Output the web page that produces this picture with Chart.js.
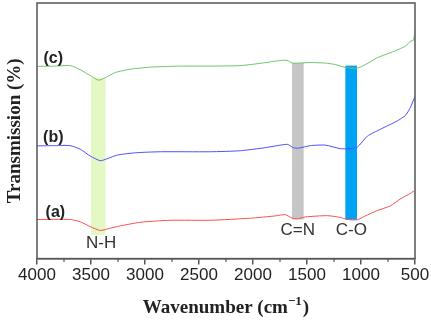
<!DOCTYPE html>
<html>
<head>
<meta charset="utf-8">
<script src="https://cdn.jsdelivr.net/npm/chart.js@4/dist/chart.umd.min.js"></script>
<style>
html,body{margin:0;padding:0;background:#fff;}
#wrap{width:431px;height:322px;}
</style>
</head>
<body>
<div id="wrap"><canvas id="c" width="431" height="322"></canvas></div>
<script>
// Wavenumbers (cm-1) and transmission (arbitrary offset units)
const waveC = [4000,3830,3692,3600,3506,3430,3368,3275,3136,2951,2673,2395,2118,1914,1765,1685,1636,1580,1469,1330,1237,1136,1034,960,849,682,589,543,515,502,500];
const seriesC = [75.2,75.3,75.5,73.9,71.6,69.8,70.8,72.8,74.1,74.9,75.3,75.3,75.5,76.5,77.4,77.6,76.5,76.5,76.7,76.5,75.9,74.7,74.5,75.9,78.6,81.3,83.1,85.0,85.4,88.3,89.1];
const waveB = [4000,3830,3692,3600,3506,3414,3349,3256,3089,2858,2395,2118,1886,1682,1627,1580,1469,1330,1192,1099,1034,941,821,663,589,543,500];
const seriesB = [44.1,44.2,44.2,42.8,40.1,38.3,39.1,40.5,41.4,41.8,41.8,42.2,43.4,44.7,43.4,43.2,44.2,44.4,43.0,43.0,43.6,47.9,50.6,53.9,56.0,59.1,63.5];
const waveA = [4000,3692,3600,3506,3414,3340,3229,3044,2766,2395,2025,1794,1701,1636,1585,1516,1312,1192,1127,1034,960,849,729,637,543,515,500];
const seriesA = [15.3,15.3,14.4,12.5,11.0,11.7,12.8,14.2,15.0,15.0,15.8,16.7,17.2,15.8,15.6,16.3,16.8,16.1,15.3,15.2,16.7,18.8,20.6,23.3,25.5,26.3,25.7];
const seriesNames = ['(c)','(b)','(a)'];
const nameWave = [3849,3849,3830];
const nameValue = [78.2,47.5,17.9];
// highlighted bands: [from, to] wavenumber, [low, high] value
const bandLabels = ['N-H','C=N','C-O'];
const bandFrom = [3500,1639,1145];
const bandTo = [3365,1531,1037];
const bandLow = [9.3,15.3,15.2];
const bandHigh = [70.7,76.5,75.5];
const bandColors = ['#e4f8c4','#c6c6c6','#00a2f2'];
const bandLabelWave = [3406,1585,1090];
const bandLabelValue = [6.0,10.9,10.9];
const xTicks = [4000,3500,3000,2500,2000,1500,1000,500];
const minorTicks = [3750,3250,2750,2250,1750,1250,750];

const toPts = (xs, ys) => xs.map((x,i)=>({x:x,y:ys[i]}));

const overlay = {
  id:'overlay',
  beforeDatasetsDraw(chart){
    const {ctx, scales:{x,y}} = chart;
    ctx.save();
    for(let i=0;i<bandFrom.length;i++){
      const x1 = x.getPixelForValue(bandFrom[i]), x2 = x.getPixelForValue(bandTo[i]);
      const y1 = y.getPixelForValue(bandHigh[i]), y2 = y.getPixelForValue(bandLow[i]);
      ctx.fillStyle = bandColors[i];
      ctx.fillRect(Math.min(x1,x2), y1, Math.abs(x2-x1), y2-y1);
    }
    ctx.restore();
  },
  afterDraw(chart){
    const {ctx, chartArea:a, scales:{x,y}} = chart;
    ctx.save();
    // frame
    ctx.strokeStyle = '#555';
    ctx.lineWidth = 1.5;
    ctx.strokeRect(a.left, a.top, a.right-a.left, a.bottom-a.top);
    // minor ticks
    ctx.lineWidth = 1.2;
    for(const t of minorTicks){
      const px = x.getPixelForValue(t);
      ctx.beginPath(); ctx.moveTo(px, a.bottom); ctx.lineTo(px, a.bottom+3.5); ctx.stroke();
    }
    // band labels
    ctx.fillStyle = '#333';
    ctx.font = '17px "Liberation Sans", Arial, sans-serif';
    ctx.textAlign = 'center'; ctx.textBaseline = 'middle';
    for(let i=0;i<bandLabels.length;i++){
      ctx.fillText(bandLabels[i], x.getPixelForValue(bandLabelWave[i]), y.getPixelForValue(bandLabelValue[i]));
    }
    // series labels
    ctx.fillStyle = '#222';
    ctx.font = 'bold 16px "Liberation Sans", Arial, sans-serif';
    for(let i=0;i<seriesNames.length;i++){
      ctx.fillText(seriesNames[i], x.getPixelForValue(nameWave[i]), y.getPixelForValue(nameValue[i]));
    }
    // y title
    ctx.fillStyle = '#222';
    ctx.font = 'bold 19px "Liberation Serif", "Times New Roman", serif';
    ctx.save();
    ctx.translate(15, (a.top+a.bottom)/2);
    ctx.rotate(-Math.PI/2);
    ctx.fillText('Transmission (%)', 0, 0);
    ctx.restore();
    // x title with superscript
    const main = 'Wavenumber (cm';
    const sup = '\u22121';
    const close = ')';
    ctx.font = 'bold 19px "Liberation Serif", "Times New Roman", serif';
    const wMain = ctx.measureText(main).width;
    const wClose = ctx.measureText(close).width;
    ctx.font = 'bold 13px "Liberation Serif", "Times New Roman", serif';
    const wSup = ctx.measureText(sup).width;
    const total = wMain + wSup + wClose + 1;
    let sx = (a.left+a.right)/2 - total/2;
    const by = 313;
    ctx.textAlign = 'left'; ctx.textBaseline = 'alphabetic';
    ctx.font = 'bold 19px "Liberation Serif", "Times New Roman", serif';
    ctx.fillText(main, sx, by); sx += wMain;
    ctx.font = 'bold 13px "Liberation Serif", "Times New Roman", serif';
    ctx.fillText(sup, sx, by-8); sx += wSup + 1;
    ctx.font = 'bold 19px "Liberation Serif", "Times New Roman", serif';
    ctx.fillText(close, sx, by);
    ctx.restore();
  }
};

new Chart(document.getElementById('c'), {
  type:'line',
  data:{
    datasets:[
      {label:'(c)', data:toPts(waveC,seriesC), borderColor:'#6cc46c', borderWidth:1, pointRadius:0, tension:0.2, fill:false},
      {label:'(b)', data:toPts(waveB,seriesB), borderColor:'#5050f8', borderWidth:1, pointRadius:0, tension:0.2, fill:false},
      {label:'(a)', data:toPts(waveA,seriesA), borderColor:'#f85050', borderWidth:1, pointRadius:0, tension:0.2, fill:false}
    ]
  },
  options:{
    responsive:false,
    animation:false,
    events:[],
    layout:{padding:{left:37,right:16,top:3,bottom:35}},
    plugins:{legend:{display:false}, tooltip:{enabled:false}},
    scales:{
      x:{
        type:'linear', min:500, max:4000, reverse:true,
        afterBuildTicks(scale){ scale.ticks = xTicks.map(v=>({value:v})); },
        ticks:{font:{family:'"Liberation Sans", Arial, sans-serif', size:17}, color:'#222', padding:1, maxRotation:0, autoSkip:false, callback:(v)=>String(v)},
        grid:{display:true, drawOnChartArea:false, drawTicks:true, tickLength:6, color:'#555', lineWidth:1.5},
        border:{display:true, color:'#555', width:1.5}
      },
      y:{display:false, min:0, max:100}
    }
  },
  plugins:[overlay]
});
</script>
</body>
</html>
